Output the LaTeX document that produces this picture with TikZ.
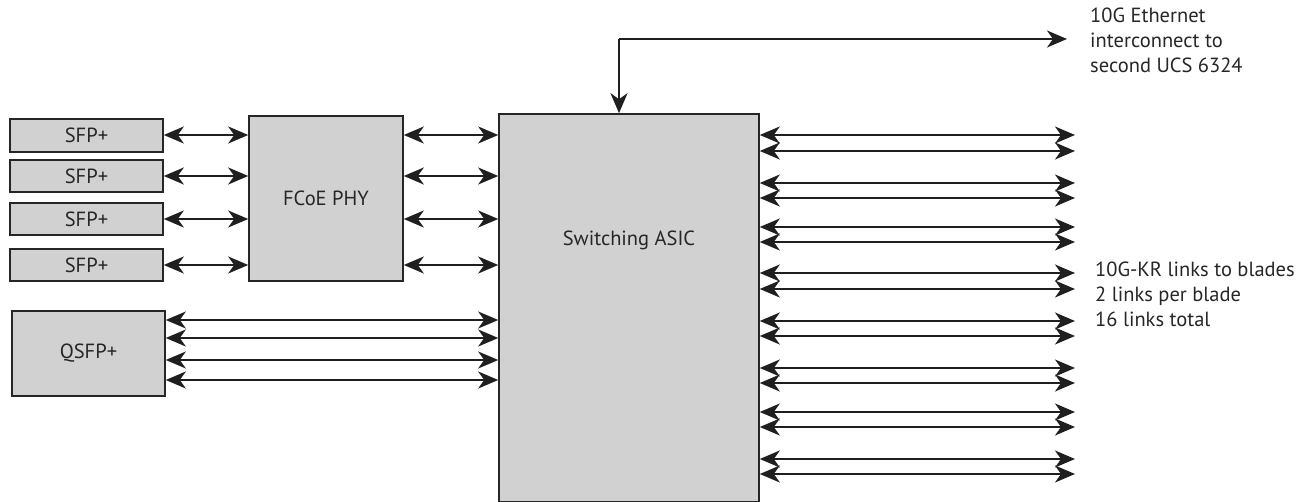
\documentclass[tikz,border=0pt]{standalone}
\usepackage{fontspec}
\setmainfont{PT Sans}
\usetikzlibrary{arrows.meta}
\begin{document}
\begin{tikzpicture}[x=1pt,y=-1pt,
  blk/.style={draw=black!85,line width=1.6pt,fill=black!18,inner sep=0pt,font=\fontsize{20.5}{25}\selectfont,text=black!85},
  link/.style={line width=1.9pt,draw=black!88,{Stealth[length=20pt,width=17pt,inset=6pt]}-{Stealth[length=20pt,width=17pt,inset=6pt]}},
  one/.style={line width=1.9pt,draw=black!88,-{Stealth[length=20pt,width=17pt,inset=6pt]}},
  lbl/.style={align=left,anchor=north west,inner sep=0pt,font=\fontsize{20.5}{25}\selectfont,text=black!85}]
\useasboundingbox (0,0) rectangle (1304,502);
% boxes
\node[blk,minimum width=153pt,minimum height=33pt] (s1) at (86.5,135.5) {SFP+};
\node[blk,minimum width=153pt,minimum height=32pt] (s2) at (86.5,176) {SFP+};
\node[blk,minimum width=153pt,minimum height=32pt] (s3) at (86.5,219) {SFP+};
\node[blk,minimum width=153pt,minimum height=32pt] (s4) at (86.5,265) {SFP+};
\node[blk,minimum width=153pt,minimum height=85pt] (q) at (88.5,353.5) {QSFP+};
\node[blk,minimum width=154pt,minimum height=165pt] (phy) at (326,198.5) {FCoE PHY};
\node[blk,minimum width=260pt,minimum height=388pt,text depth=0pt] (asic) at (629,308) {};
\node[font=\fontsize{20.5}{25}\selectfont,text=black!85] (asiclbl) at (629,240) {Switching ASIC};
% SFP to PHY
\foreach \i/\y in {s1/135,s2/176,s3/219,s4/265}{
  \draw[link] (\i.east |- 0,\y) -- (phy.west |- 0,\y);
  \draw[link] (phy.east |- 0,\y) -- (asic.west |- 0,\y);
}
% QSFP to ASIC
\foreach \y in {320,338,360,380}{
  \draw[link] (q.east |- 0,\y) -- (asic.west |- 0,\y);
}
% right links
\coordinate (rend) at (1075,0);
\foreach \y in {135,151,183,198,227,242,273,289,321,336,368,383,412,427,459,474}{
  \draw[link] (asic.east |- 0,\y) -- (rend |- 0,\y);
}
% top interconnect
\coordinate (tr) at (1067,39);
\coordinate (tc) at (619,39);
\draw[one] (tc) -- (tc |- asic.north);
\draw[one] (tc) -- (tr);
\node[lbl] (t1) at (1090,8) {10G Ethernet\\interconnect to\\second UCS 6324};
\node[lbl] (t2) at (1095,262) {10G-KR links to blades\\2 links per blade\\16 links total};
\end{tikzpicture}
\end{document}
